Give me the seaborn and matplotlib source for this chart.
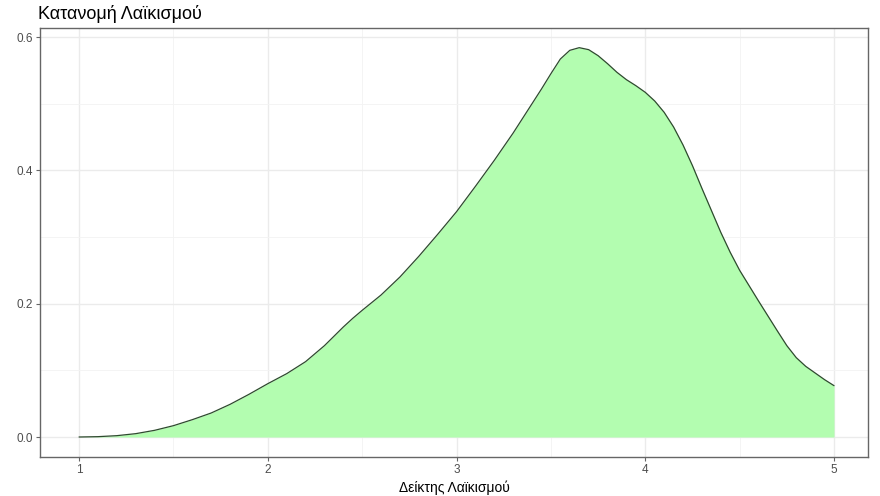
import numpy as np
import pandas as pd
import matplotlib
matplotlib.use("Agg")
import matplotlib.pyplot as plt
import seaborn as sns
from matplotlib.ticker import MultipleLocator

# Δείκτης λαϊκισμού και εκτιμώμενη πυκνότητα (διαβασμένα από την εικόνα)
deiktis = [1.0, 1.1, 1.2, 1.3, 1.4, 1.5, 1.6, 1.7, 1.8, 1.9,
           2.0, 2.1, 2.2, 2.3, 2.35, 2.4, 2.45, 2.5, 2.6, 2.7, 2.8, 2.9,
           3.0, 3.1, 3.2, 3.3, 3.4, 3.45, 3.5, 3.55, 3.6, 3.65, 3.7, 3.75,
           3.8, 3.85, 3.9, 3.95, 4.0, 4.05, 4.1, 4.15, 4.2, 4.25, 4.3, 4.35,
           4.4, 4.45, 4.5, 4.6, 4.7, 4.75, 4.8, 4.85, 4.9, 4.95, 5.0]
pyknotita = [0.000, 0.0005, 0.002, 0.005, 0.010, 0.017, 0.026, 0.036, 0.049, 0.064,
             0.080, 0.095, 0.113, 0.137, 0.151, 0.165, 0.178, 0.190, 0.213, 0.240, 0.271, 0.304,
             0.338, 0.376, 0.415, 0.456, 0.500, 0.522, 0.545, 0.567, 0.580, 0.584, 0.581, 0.572,
             0.560, 0.547, 0.536, 0.527, 0.517, 0.504, 0.487, 0.465, 0.438, 0.407, 0.373, 0.340,
             0.307, 0.277, 0.250, 0.204, 0.159, 0.137, 0.119, 0.106, 0.096, 0.086, 0.077]

x_ticks = [1, 2, 3, 4, 5]
y_ticks = [0.0, 0.2, 0.4, 0.6]
y_tick_labels = ["0.0", "0.2", "0.4", "0.6"]

titlos = "Κατανομή Λαϊκισμού"
x_titlos = "Δείκτης Λαϊκισμού"

df = pd.DataFrame({"deiktis": deiktis, "pyknotita": pyknotita})

sns.set_theme(style="white")
plt.rcParams["font.family"] = ["Liberation Sans", "DejaVu Sans"]

fig = plt.figure(figsize=(8.8, 4.96), dpi=100)
ax = fig.add_axes([40 / 880, 1 - 457 / 496, 828 / 880, 429 / 496])

# γέμισμα κάτω από την καμπύλη
ax.fill_between(df["deiktis"], df["pyknotita"], color="#b3fdb0", linewidth=0, zorder=2)
sns.lineplot(data=df, x="deiktis", y="pyknotita", ax=ax, color="#2e4a2e",
             linewidth=0.9, zorder=3)

ax.set_xlim(0.793, 5.18)
ax.set_ylim(-0.030, 0.6135)

ax.set_xticks(x_ticks)
ax.set_xticklabels([str(t) for t in x_ticks])
ax.set_yticks(y_ticks)
ax.set_yticklabels(y_tick_labels)
ax.xaxis.set_minor_locator(MultipleLocator(0.5))
ax.yaxis.set_minor_locator(MultipleLocator(0.1))

ax.grid(which="major", color="#ebebeb", linewidth=1.0, zorder=0)
ax.grid(which="minor", color="#f3f3f3", linewidth=0.6, zorder=0)
ax.set_axisbelow(True)

for s in ax.spines.values():
    s.set_color("#666666")
    s.set_linewidth(1.0)

ax.tick_params(axis="both", which="major", direction="out", length=3, width=0.8,
               color="#666666", labelsize=8.5, labelcolor="#4d4d4d", pad=2,
               bottom=True, left=True)
ax.tick_params(axis="both", which="minor", length=0)

ax.set_xlabel(x_titlos, fontsize=10, color="black", labelpad=3)
ax.set_ylabel("")
fig.text(38 / 880, 1 - 14 / 496, titlos, fontsize=13, color="black",
         ha="left", va="center")

fig.savefig("out.png", dpi=100, facecolor="white")
